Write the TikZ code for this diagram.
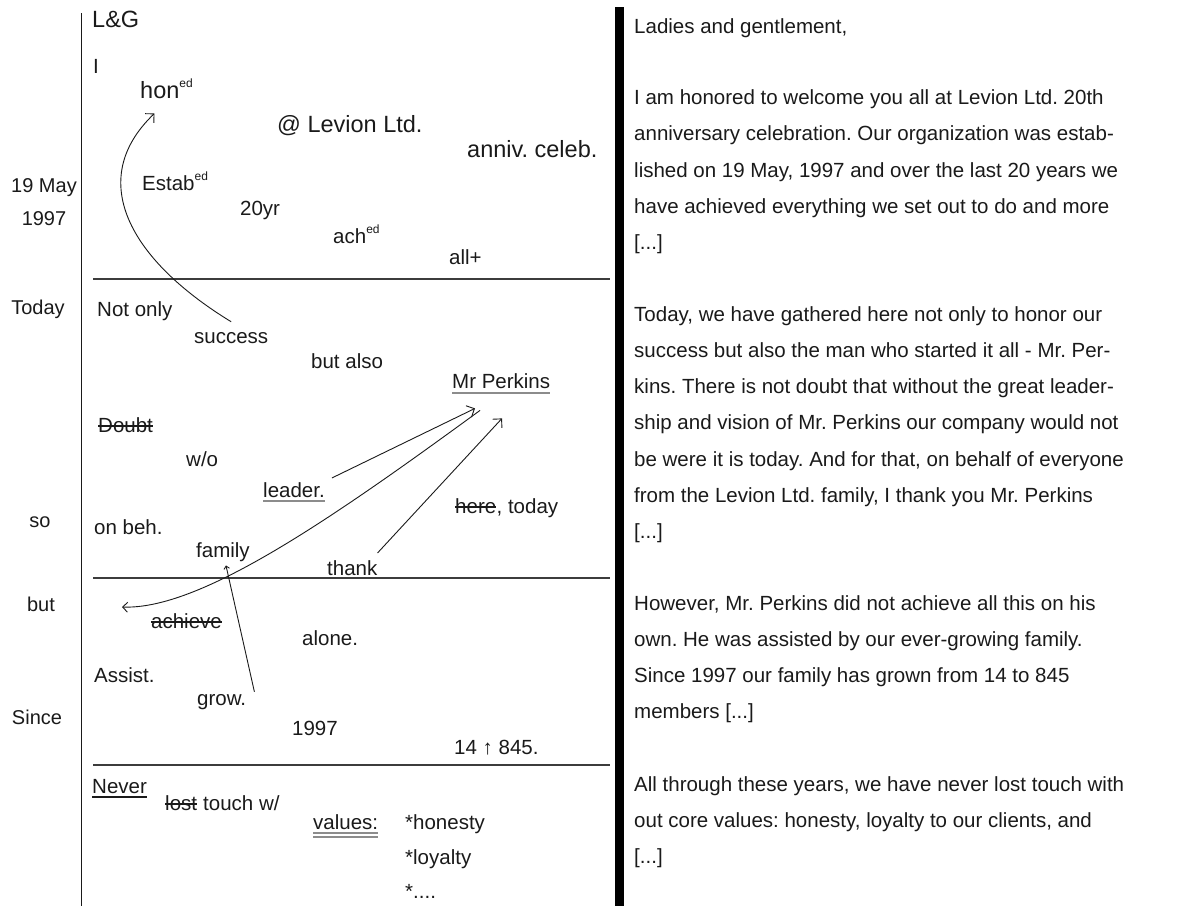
\documentclass[tikz,border=0pt]{standalone}
\usepackage{fontspec}
\setmainfont{Liberation Sans}
\usetikzlibrary{arrows.meta}
\frenchspacing

\definecolor{ink}{HTML}{1A1A1A}
\definecolor{pencil}{HTML}{8C8C8C}

\newcommand{\edmark}{\raisebox{0.45em}{\fontsize{12}{14}\selectfont ed}}

\tikzset{
  word/.style={anchor=base west, inner sep=0pt, text=ink, font=\fontsize{20.5}{24}\selectfont},
  bigword/.style={word, font=\fontsize{23.5}{28}\selectfont},
  margin/.style={anchor=base, inner sep=0pt, text=ink, font=\fontsize{20}{24}\selectfont},
  sepline/.style={line width=1.6pt, draw=ink!85},
  strikeline/.style={line width=1.6pt, draw=ink},
  jotarrow/.style={line width=0.9pt, draw=ink, -{Straight Barb[angle=90:9pt, line width=0.9pt]}},
  greyline/.style={line width=2.2pt, draw=pencil}
}

\begin{document}
\begin{tikzpicture}[x=1pt,y=-1pt]
  \useasboundingbox (0,0) rectangle (1191,906);

  % frame: margin line and thick bar
  \draw[line width=1.3pt, ink] (81.5,13) -- (81.5,906);
  \fill[black] (615,7) rectangle (624,906);

  % section rules
  \foreach \y in {279,578,765}
    \draw[sepline] (93,\y) -- (610,\y);

  % margin keywords
  \node[margin] (may)   at (44,192) {19 May};
  \node[margin] (year)  at (44,225) {1997};
  \node[margin] (today) at (38,314) {Today};
  \node[margin] (so)    at (40,527) {so};
  \node[margin] (but)   at (41,611) {but};
  \node[margin] (since) at (37,724) {Since};

  % notes, part 1
  \node[bigword] (lg)     at (92,27)   {L\&G};
  \node[word]    (i)      at (93,73)   {I};
  \node[bigword] (hon)    at (140,98)  {hon\edmark};
  \node[bigword] (levion) at (277,132) {@ Levion Ltd.};
  \node[bigword] (anniv)  at (467,157) {anniv. celeb.};
  \node[word]    (estab)  at (142,190) {Estab\edmark};
  \node[word]    (yr)     at (240,215) {20yr};
  \node[word]    (ach)    at (333,243) {ach\edmark};
  \node[word]    (all)    at (449,264) {all+};

  % notes, part 2
  \node[word] (notonly) at (97,316)  {Not only};
  \node[word] (success) at (194,343) {success};
  \node[word] (butalso) at (311,368) {but also};
  \node[word] (mrp)     at (452,388) {Mr Perkins};
  \node[word] (doubt)   at (98,432)  {Doubt};
  \node[word] (wo)      at (186,466) {w/o};
  \node[word] (leader)  at (263,497) {leader.};
  \node[word] (here)    at (455,513) {here};
  \node[word] (hereday) at (here.base east) {, today};
  \node[word] (onbeh)   at (94,534)  {on beh.};
  \node[word] (family)  at (196,557) {family};
  \node[word] (thank)   at (327,575) {thank};

  % notes, part 3
  \node[word] (achieve) at (151,628) {achieve};
  \node[word] (alone)   at (302,645) {alone.};
  \node[word] (assist)  at (94,682)  {Assist.};
  \node[word] (grow)    at (197,705) {grow.};
  \node[word] (since97) at (292,735) {1997};
  \node[word] (growth)  at (454,754) {14 ↑ 845.};

  % notes, part 4
  \node[word] (never)   at (92,793)  {Never};
  \node[word] (lost)    at (165,810) {lost};
  \node[word] (touch)   at ([xshift=5.7pt]lost.base east) {touch w/};
  \node[word] (values)  at (313,829) {values:};
  \node[word] (honesty) at (405,829) {*honesty};
  \node[word] (loyalty) at (405,864) {*loyalty};
  \node[word] (more)    at (405,898) {*....};

  % crossed out words
  \foreach \w in {doubt,here,achieve,lost}
    \draw[strikeline] ([yshift=6pt]\w.base west) -- ([yshift=6pt]\w.base east);

  % underlines
  \draw[greyline] ([yshift=-5pt]mrp.base west) -- ([yshift=-5pt]mrp.base east);
  \draw[greyline] ([yshift=-4pt]leader.base west) -- ([yshift=-4pt]leader.base east);
  \draw[line width=1.4pt, ink] ([yshift=-4pt]never.base west) -- ([yshift=-4pt]never.base east);
  \draw[line width=1.5pt, pencil] ([yshift=-4pt]values.base west) -- ([yshift=-4pt]values.base east);
  \draw[line width=1.5pt, pencil] ([yshift=-8pt]values.base west) -- ([yshift=-8pt]values.base east);

  % connectors
  \coordinate (back) at (122,607);
  \draw[jotarrow] ([yshift=10pt]success.north) .. controls (130,260) and (85,180) .. ([xshift=-12pt,yshift=-15pt]hon.south);
  \draw[jotarrow] ([xshift=7pt,yshift=4pt]leader.north east) -- ([xshift=23pt,yshift=-20pt]mrp.south west);
  \draw[jotarrow, {Straight Barb[angle=90:7pt, line width=0.9pt]}-] (back) .. controls (200,610) and (330,520) .. ([xshift=28pt,yshift=-22pt]mrp.south west);
  \draw[jotarrow] ([yshift=7pt]thank.north east) -- ([xshift=50pt,yshift=-30pt]mrp.south west);
  \draw[line width=0.9pt, ink, -{Straight Barb[angle=90:4pt, line width=0.9pt]}] ([xshift=8pt,yshift=2pt]grow.north east) -- ([xshift=3pt,yshift=-4pt]family.south);

  % the written speech
  \foreach \y/\txt [count=\i] in {
      33/{Ladies and gentlement,},
      104/{I am honored to welcome you all at Levion Ltd. 20th},
      140/{anniversary celebration. Our organization was estab-},
      177/{lished on 19 May, 1997 and over the last 20 years we},
      213/{have achieved everything we set out to do and more},
      249/{[...]},
      321/{Today, we have gathered here not only to honor our},
      357/{success but also the man who started it all - Mr. Per-},
      393/{kins. There is not doubt that without the great leader-},
      429/{ship and vision of Mr. Perkins our company would not},
      466/{be were it is today. And for that, on behalf of everyone},
      502/{from the Levion Ltd. family, I thank you Mr. Perkins},
      538/{[...]},
      610/{However, Mr. Perkins did not achieve all this on his},
      646/{own. He was assisted by our ever-growing family.},
      682/{Since 1997 our family has grown from 14 to 845},
      718/{members [...]},
      791/{All through these years, we have never lost touch with},
      827/{out core values: honesty, loyalty to our clients, and},
      863/{[...]}}
    \node[word] (line\i) at (634,\y) {\txt};
\end{tikzpicture}
\end{document}
